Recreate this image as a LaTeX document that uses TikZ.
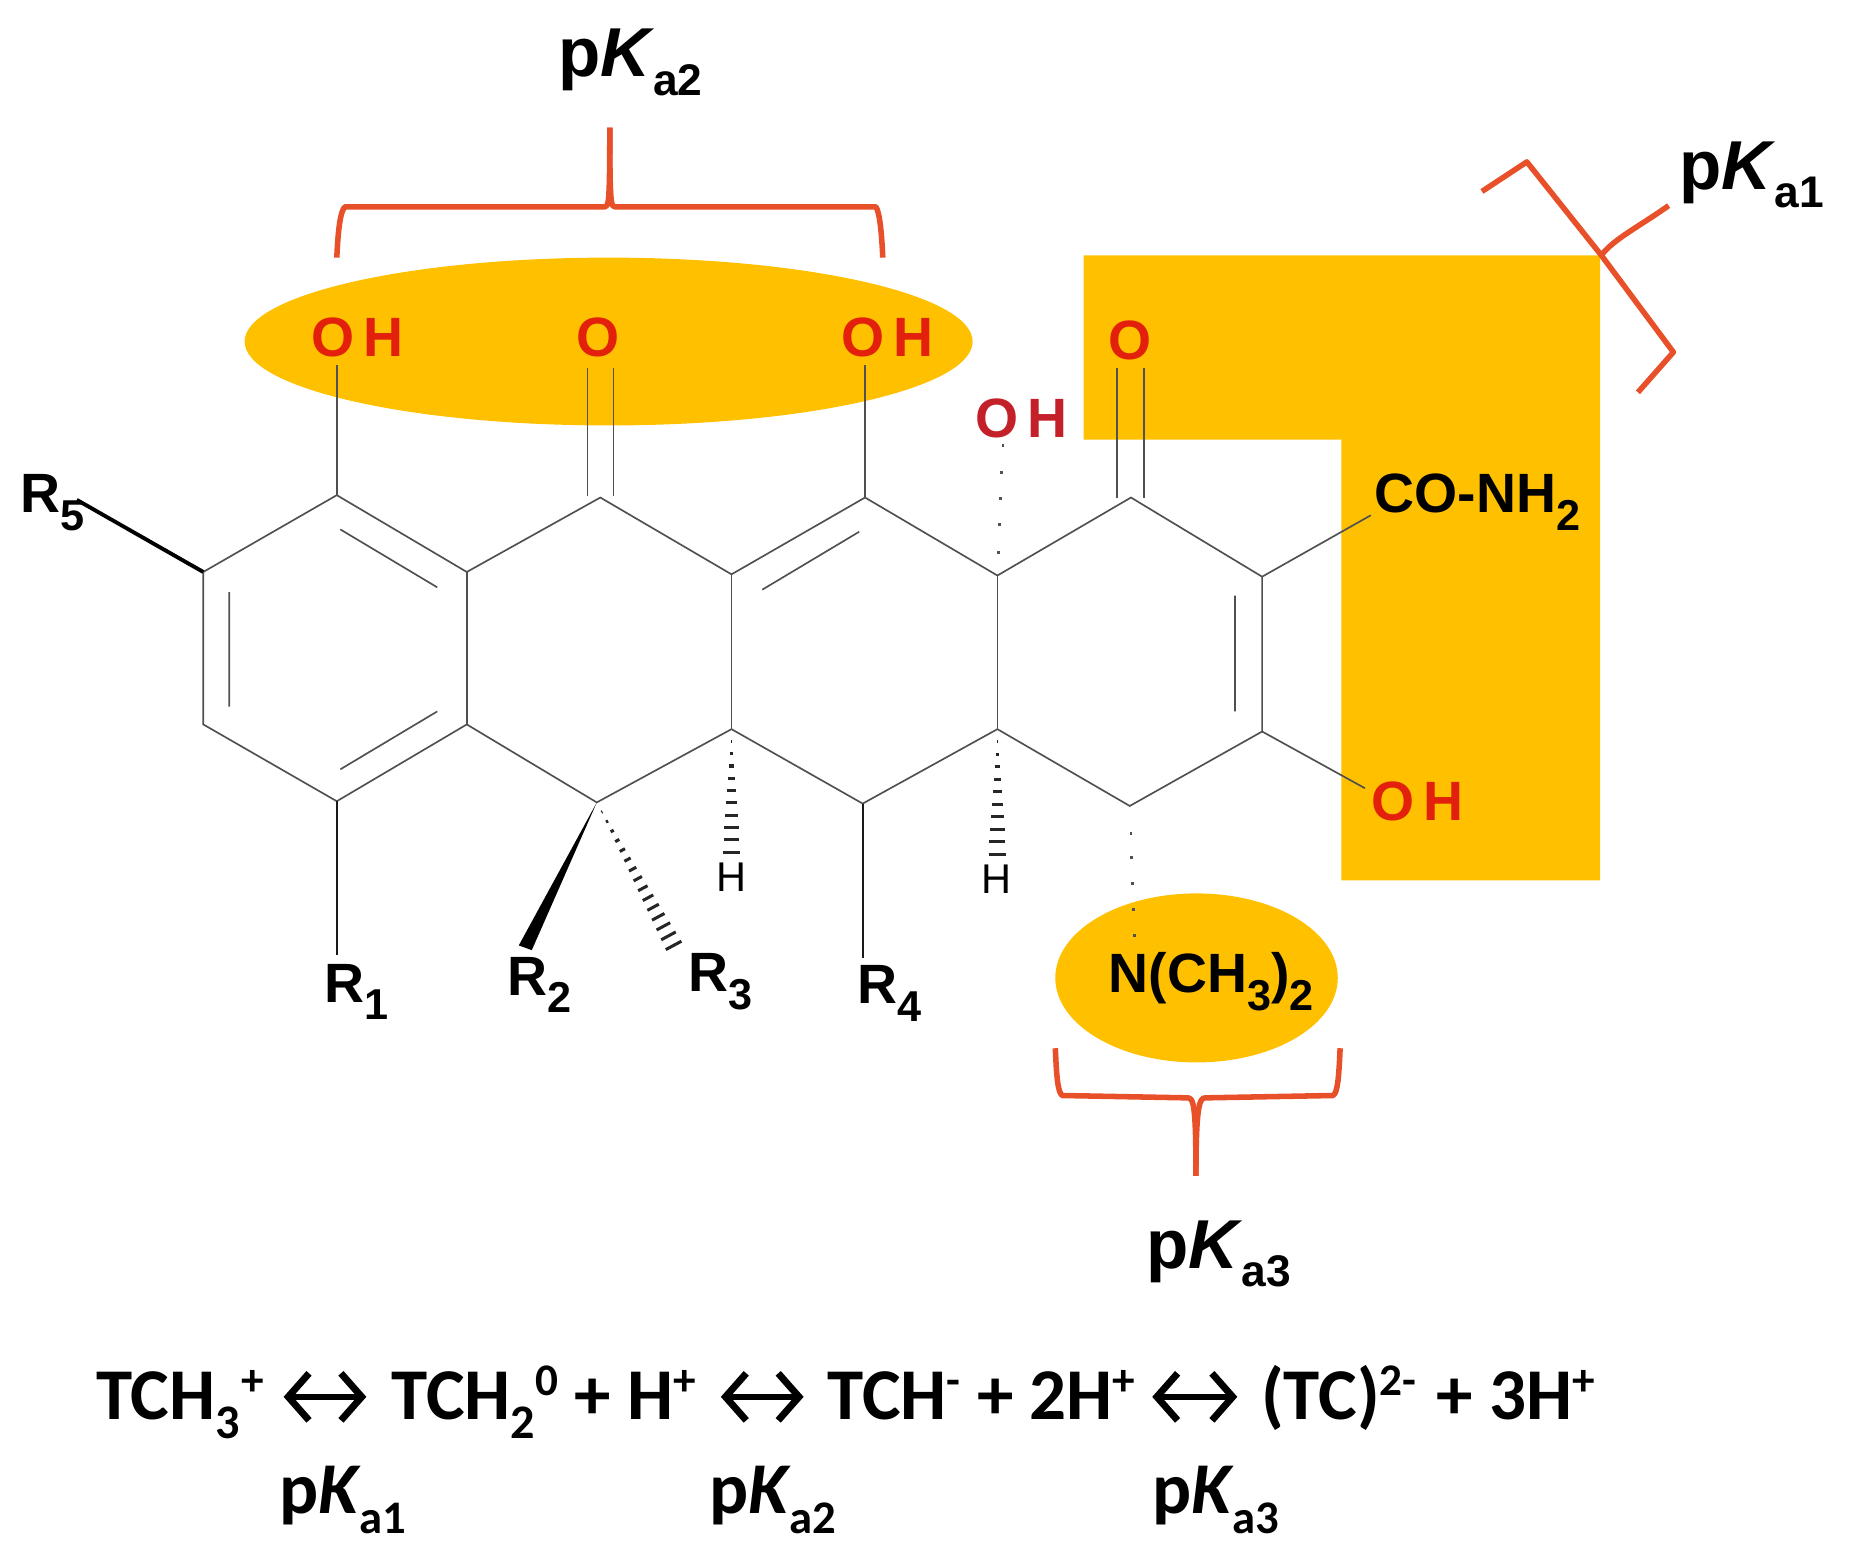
\documentclass[tikz,border=0pt]{standalone}
\usepackage{fontspec}
\setmainfont{Liberation Sans}
\newfontfamily\eqfont{Carlito}
\usetikzlibrary{shapes.geometric,calc,arrows.meta}
\definecolor{amber}{HTML}{FFC000}
\definecolor{brk}{HTML}{E8502A}
\definecolor{oxy}{HTML}{E2200C}
\definecolor{oxyb}{HTML}{C4202A}
\definecolor{bondc}{HTML}{505050}
\newcommand{\subt}[1]{\raisebox{-0.26em}{\fontsize{0.66em}{1em}\selectfont #1}}
\newcommand{\suba}[1]{\raisebox{-0.32em}{\fontsize{0.78em}{1em}\selectfont #1}}
\newcommand{\supt}[1]{\raisebox{0.33em}{\fontsize{0.62em}{1em}\selectfont #1}}
\newcommand{\pka}[1]{p\textit{K}\kern-0.02em\raisebox{-0.27em}{\fontsize{0.64em}{1em}\selectfont a#1}}
\newcommand{\hashw}[4]{%
  \foreach \i in {1,...,#3}{%
    \pgfmathsetmacro\tt{\i/#3}%
    \pgfmathsetmacro\hw{#4*\tt}%
    \coordinate (hc) at ($(#1)!\tt!(#2)$);
    \draw[hashline] ($(hc)!\hw pt!90:(#1)$) -- ($(hc)!\hw pt!-90:(#1)$);
  }}
\tikzset{
  bond/.style={draw=bondc,line width=1.2pt},
  hashline/.style={draw=black!85,line width=2.2pt},
  smallhash/.style={draw=bondc,line width=2.2pt},
  bracket/.style={draw=brk,line width=4pt,line join=round},
  tag/.style={anchor=base west,inner sep=0pt,font=\fontsize{50}{60}\selectfont\bfseries},
  eqtext/.style={anchor=base west,inner sep=0pt,font=\fontsize{52.7}{62}\selectfont\eqfont\bfseries},
  eqarrow/.style={draw=black,line width=4pt,{Straight Barb[length=15pt,width=34pt,line width=5pt]}-{Straight Barb[length=15pt,width=34pt,line width=5pt]}},
  atom/.style={anchor=base west,inner sep=0pt,font=\fontsize{40}{48}\selectfont\bfseries},
  oatom/.style={atom,text=oxy},
  thinh/.style={anchor=base,inner sep=0pt,font=\fontsize{30}{36}\selectfont},
  blob/.style={ellipse,fill=amber,draw=none,inner sep=0pt}
}
\begin{document}
\begin{tikzpicture}[x=0.03cm,y=-0.03cm]
\useasboundingbox (0,0) rectangle (1568,1324.4);
% highlight areas
\node[blob,minimum width=18.48cm,minimum height=4.26cm] (eA) at (515,289) {};
\node[blob,minimum width=7.17cm,minimum height=4.29cm] (eB) at (1012.5,827.5) {};
\fill[amber] (917,216) -- (1354,216) -- (1354,745) -- (1135,745) -- (1135,372) -- (917,372) -- cycle;
% atoms
\coordinate (a1) at (285,419);\coordinate (a2) at (508,421);\coordinate (a3) at (732,421);\coordinate (a4) at (957,421);
\coordinate (b0) at (172,484);\coordinate (b1) at (395,484);\coordinate (b2) at (619,486);\coordinate (b3) at (844,487);\coordinate (b4) at (1068,488);
\coordinate (c0) at (172,613);\coordinate (c1) at (395,613);\coordinate (c2) at (619,617);\coordinate (c3) at (844,617);\coordinate (c4) at (1068,619);
\coordinate (d1) at (285,678);\coordinate (d2) at (505,679);\coordinate (d3) at (730,680);\coordinate (d4) at (956,682);
% rings
\draw[bond,line join=miter] (b0) -- (a1) -- (b1) -- (a2) -- (b2) -- (a3) -- (b3) -- (a4) -- (b4) -- (c4) -- (d4) -- (c3) -- (d3) -- (c2) -- (d2) -- (c1) -- (d1) -- (c0) -- cycle;
\draw[bond] (b1) -- (c1) (b2) -- (c2) (b3) -- (c3);
% inner double bonds
\coordinate (i1a) at (288,448);\coordinate (i1b) at (370,497);
\coordinate (i2a) at (194,501);\coordinate (i2b) at (194,598);
\coordinate (i3a) at (288,651);\coordinate (i3b) at (370,602);
\coordinate (i4a) at (645,499);\coordinate (i4b) at (727,450);
\coordinate (i5a) at (1045,504);\coordinate (i5b) at (1045,602);
\draw[bond] (i1a) -- (i1b) (i2a) -- (i2b) (i3a) -- (i3b) (i4a) -- (i4b) (i5a) -- (i5b);
% labels
\node[tag] (kb) at (472,65) {\pka{2}};
\node[tag] (ka) at (1421,160) {\pka{1}};
\node[tag] (kc) at (970,1073) {\pka{3}};
\node[oatom] (oh1) at (263,302) {O\kern0.16em H};
\node[oatom] (o2) at (488,302) {O};
\node[oatom] (oh3) at (712,302) {O\kern0.16em H};
\node[oatom] (o4) at (938,304) {O};
\node[oatom,text=oxyb] (oh5) at (825,370) {O\kern0.16em H};
\node[oatom] (oh6) at (1160,694) {O\kern0.16em H};
\node[atom] (r5) at (17,434) {R\suba{5}};
\node[atom] (con) at (1163,434) {CO-NH\suba{2}};
\node[atom] (r1) at (274,848) {R\suba{1}};
\node[atom] (r2) at (429,842) {R\suba{2}};
\node[atom] (r3) at (582,839) {R\suba{3}};
\node[atom] (r4) at (725,849) {R\suba{4}};
\node[atom] (nme) at (938,840) {N(CH\suba{3})\suba{2}};
\node[thinh] (h1) at (619,754) {H};
\node[thinh] (h2) at (843,756) {H};
% substituent bond ends
\coordinate (e1) at (285,309);\coordinate (e3) at (732,309);
\coordinate (e2a) at (497,311);\coordinate (e2b) at (497,420);
\coordinate (e2c) at (519,311);\coordinate (e2d) at (519,420);
\coordinate (e4a) at (945,311);\coordinate (e4b) at (945,421);
\coordinate (e4c) at (968,311);\coordinate (e4d) at (968,421);
\coordinate (econ) at (1160,436);\coordinate (eoh) at (1155,667);
\coordinate (er1) at (285,808);\coordinate (er4) at (730,811);
\coordinate (er5) at (65,423);
\draw[bond] (a1) -- (e1) (a3) -- (e3) (e2a) -- (e2b) (e2c) -- (e2d) (e4a) -- (e4b) (e4c) -- (e4d);
\draw[bond] (b4) -- (econ) (c4) -- (eoh);
\draw[draw=black!90,line width=1.7pt] (d1) -- (er1) (d3) -- (er4);
\draw[draw=black,line width=2.8pt] (b0) -- (er5);
% wedge bonds
\coordinate (wr2a) at (439,800);\coordinate (wr2b) at (450,804);
\fill[black] (d2) -- (wr2a) -- (wr2b) -- cycle;
\coordinate (er3) at (570,800);
\hashw{d2}{er3}{15}{6.4}
\coordinate (eh1) at (619,721);\coordinate (eh2) at (844,723);
\hashw{c2}{eh1}{10}{6.4}
\hashw{c3}{eh2}{10}{6.4}
\coordinate (eo5) at (844,377);
\foreach \k in {0.18,0.39,0.59,0.79,1.0}{
  \coordinate (hq) at ($(b3)!\k!(eo5)$);
  \draw[smallhash] ($(hq)+(-{1+4.5*\k},0)$) -- ($(hq)+({1+4.5*\k},0)$);
}
\coordinate (en) at (956,792);
\foreach \k in {0.21,0.4,0.6,0.8,1.0}{
  \coordinate (hq) at ($(d4)!\k!(en)$);
  \draw[smallhash] ($(hq)+(-{1+4*\k},0)$) -- ($(hq)+({1+4*\k},0)$);
}
% brackets
\coordinate (bb0) at (516,108);
\coordinate (bbl) at (285,218);\coordinate (bbr) at (747,218);
\draw[bracket] (bbl) .. controls (286,195) and (288,178) .. (292,175) -- (512,175) .. controls (515,175) and (516,172) .. (bb0);
\draw[bracket] (bbr) .. controls (746,195) and (744,178) .. (741,175) -- (520,175) .. controls (517,175) and (516,172) .. (bb0);
\coordinate (bc0) at (1012,995);
\coordinate (bcl) at (893,887);\coordinate (bcr) at (1134,887);
\draw[bracket] (bcl) .. controls (894,910) and (895,925) .. (899,927) -- (1005,929) .. controls (1010,929) and (1012,935) .. (bc0);
\draw[bracket] (bcr) .. controls (1133,910) and (1132,925) .. (1128,927) -- (1020,929) .. controls (1015,929) and (1012,935) .. (bc0);
\coordinate (ba1) at (1254,162);\coordinate (ba2) at (1292,137);
\coordinate (bam) at (1355,216);
\coordinate (ba3) at (1416,298);\coordinate (ba4) at (1386,332);\coordinate (ba5) at (1412,174);
\draw[bracket] (ba1) -- (ba2) -- (bam) -- (ba3) -- (ba4);
\draw[bracket] (bam) .. controls (1366,202) and (1385,193) .. (ba5);
% equation
\node[eqtext] (q1) at (81,1201) {TCH\subt{3}\kern0.03em\supt{+}};
\node[eqtext] (q2) at (331,1201) {TCH\subt{2}\supt{0} + H\supt{+}};
\node[eqtext] (q3) at (700,1201) {TCH\supt{-} + 2H\supt{+}};
\node[eqtext] (q4) at (1067,1201) {(TC)\supt{2-} \kern0.05em+ 3H\supt{+}};
\node[eqtext] (p1) at (236,1281) {\pka{1}};
\node[eqtext] (p2) at (600,1281) {\pka{2}};
\node[eqtext] (p3) at (975,1281) {\pka{3}};
\coordinate (ar1a) at (240,1182);\coordinate (ar1b) at (310,1182);
\coordinate (ar2a) at (610,1182);\coordinate (ar2b) at (680,1182);
\coordinate (ar3a) at (975,1182);\coordinate (ar3b) at (1047,1182);
\draw[eqarrow] (ar1a) -- (ar1b);
\draw[eqarrow] (ar2a) -- (ar2b);
\draw[eqarrow] (ar3a) -- (ar3b);
\end{tikzpicture}
\end{document}
